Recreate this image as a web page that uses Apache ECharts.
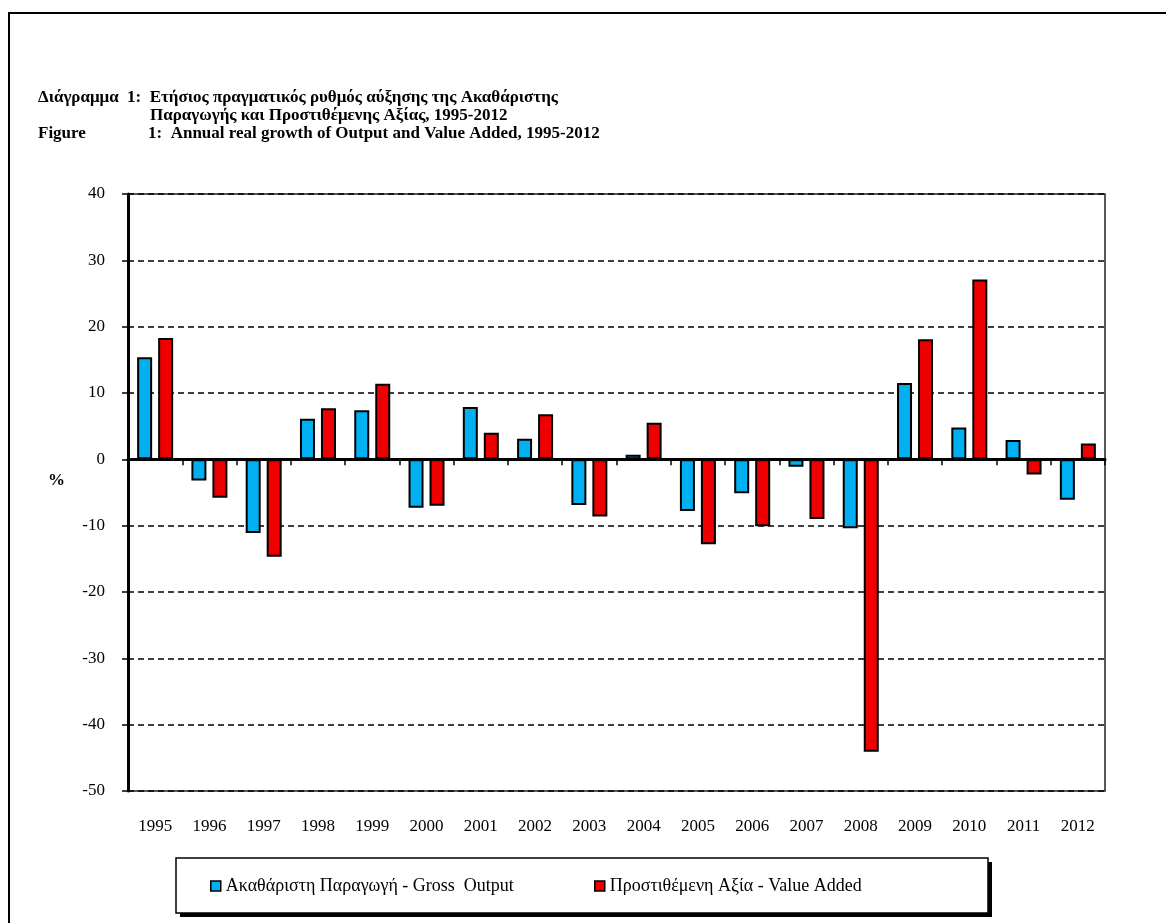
<!DOCTYPE html>
<html>
<head>
<meta charset="utf-8">
<script src="https://cdn.jsdelivr.net/npm/echarts@6/dist/echarts.min.js"></script>
<style>
html,body{margin:0;padding:0;background:#fff;}
#chart{width:1166px;height:923px;}
</style>
</head>
<body>
<div id="chart"></div>
<script>
const years = ['1995','1996','1997','1998','1999','2000','2001','2002','2003','2004','2005','2006','2007','2008','2009','2010','2011','2012'];
const grossOutput = [15.4, -3.2, -11.1, 6.1, 7.4, -7.3, 7.9, 3.1, -6.9, 0.7, -7.8, -5.1, -1.1, -10.4, 11.5, 4.8, 2.9, -6.1];
const valueAdded = [18.3, -5.8, -14.7, 7.7, 11.4, -7.0, 4.0, 6.8, -8.6, 5.5, -12.8, -10.1, -9.0, -44.1, 18.1, 27.1, -2.3, 2.4];
const seriesNames = ['Ακαθάριστη Παραγωγή - Gross  Output', 'Προστιθέμενη Αξία - Value Added'];
const yMin = -50, yMax = 40, yStep = 10;

const serif = 'Liberation Serif';
const chart = echarts.init(document.getElementById('chart'));
const titleStyle = {fontFamily: serif, fontWeight: 'bold', fontSize: 17, color: '#000'};
const legendText = {fontFamily: serif, fontSize: 18, color: '#000'};

chart.setOption({
  backgroundColor: '#fff',
  animation: false,
  title: [
    {text: 'Διάγραμμα', left: 38, top: 89, padding: 0, textStyle: titleStyle},
    {text: '1:  Ετήσιος πραγματικός ρυθμός αύξησης της Ακαθάριστης', left: 127, top: 89, padding: 0, textStyle: titleStyle},
    {text: 'Παραγωγής και Προστιθέμενης Αξίας, 1995-2012', left: 150, top: 107, padding: 0, textStyle: titleStyle},
    {text: 'Figure', left: 38, top: 125, padding: 0, textStyle: titleStyle},
    {text: '1:  Annual real growth of Output and Value Added, 1995-2012', left: 148, top: 125, padding: 0, textStyle: titleStyle}
  ],
  graphic: [
    {type: 'rect', z: 0, shape: {x: 9, y: 13, width: 1300, height: 1000}, style: {fill: 'none', stroke: '#000', lineWidth: 2}},
    {type: 'rect', z: 0, shape: {x: 180, y: 862, width: 812, height: 55}, style: {fill: '#000'}},
    {type: 'rect', z: 1, shape: {x: 176, y: 858, width: 812, height: 55}, style: {fill: '#fff', stroke: '#000', lineWidth: 1.5}},
    {type: 'text', z: 5, left: 48, top: 472, style: {text: '%', font: 'bold 17px "Liberation Serif"', fill: '#000'}}
  ],
  legend: [
    {data: [seriesNames[0]], left: 210, top: 877, padding: 0, icon: 'rect', itemWidth: 10, itemHeight: 10,
     itemStyle: {borderColor: '#000', borderWidth: 1.5}, textStyle: legendText},
    {data: [seriesNames[1]], left: 594, top: 877, padding: 0, icon: 'rect', itemWidth: 10, itemHeight: 10,
     itemStyle: {borderColor: '#000', borderWidth: 1.5}, textStyle: legendText}
  ],
  grid: {left: 128, right: 61, top: 194, bottom: 132, show: true, borderColor: '#222', borderWidth: 1.5, containLabel: false},
  xAxis: [
    {type: 'category', data: years, position: 'bottom',
     axisLine: {onZero: true, lineStyle: {color: '#000', width: 3}},
     axisTick: {show: true, length: 6, lineStyle: {color: '#000', width: 1.5}},
     axisLabel: {show: false}, splitLine: {show: false}},
    {type: 'category', data: years, position: 'bottom',
     axisLine: {show: false, onZero: false}, axisTick: {show: false},
     axisLabel: {margin: 27, fontFamily: serif, fontSize: 17, color: '#000'}}
  ],
  yAxis: {
    type: 'value', min: yMin, max: yMax, interval: yStep,
    axisLine: {show: true, lineStyle: {color: '#000', width: 3}},
    axisTick: {show: true, length: 6, lineStyle: {color: '#000', width: 1.5}},
    axisLabel: {margin: 23, fontFamily: serif, fontSize: 17, color: '#000'},
    splitLine: {show: true, lineStyle: {color: '#000', width: 1.5, type: [6, 4]}}
  },
  series: [
    {name: seriesNames[0], type: 'bar', xAxisIndex: 0, data: grossOutput, barWidth: 15, barGap: '40%',
     itemStyle: {color: '#00B0F0', borderColor: '#000', borderWidth: 2}},
    {name: seriesNames[1], type: 'bar', xAxisIndex: 0, data: valueAdded, barWidth: 15, barGap: '40%',
     itemStyle: {color: '#EE0000', borderColor: '#000', borderWidth: 2}}
  ]
});
</script>
</body>
</html>
